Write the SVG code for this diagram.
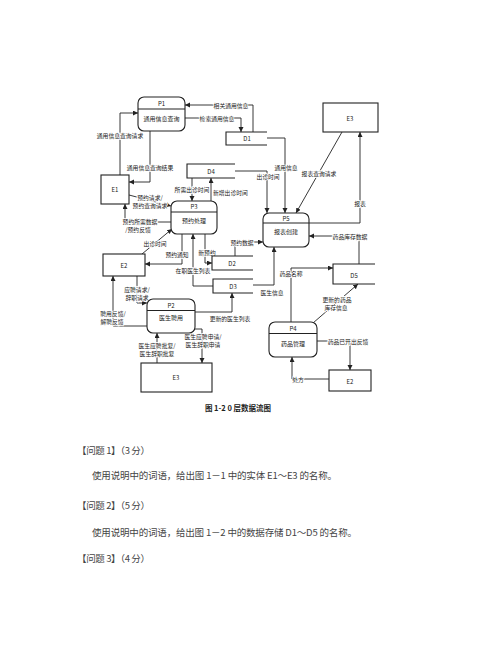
<svg xmlns="http://www.w3.org/2000/svg" width="500" height="647" viewBox="0 0 500 647">
<style>
text{font-family:"Noto Sans CJK SC","Liberation Sans",sans-serif;dominant-baseline:central;text-anchor:middle}
.box{fill:#fff;stroke:#222;stroke-width:1.1}
.ds{fill:none;stroke:#222;stroke-width:1.1}
.nt{font-size:6px;fill:#222}
.c{fill:none;stroke:#222;stroke-width:0.9;marker-end:url(#ah)}
.lb{font-size:5.8px;fill:#222;stroke:#fff;stroke-width:1.6;paint-order:stroke}
.q{font-size:9.5px;fill:#444;text-anchor:start}
</style>
<defs>
<marker id="ah" markerUnits="userSpaceOnUse" markerWidth="6" markerHeight="6" refX="5" refY="2.5" orient="auto">
<path d="M0,0 L5,2.5 L0,5 z" fill="#222"/>
</marker>
</defs>
<rect width="500" height="647" fill="#fff"/>

<g id="connectors">
<path class="c" d="M253,132 V105 H185"/>
<path class="c" d="M185,118 H241 V132"/>
<path class="c" d="M120,175 V113 H138"/>
<path class="c" d="M150,131 V182 H129"/>
<path class="c" d="M129,195 L171,206"/>
<path class="c" d="M171,222 H125 V204"/>
<path class="c" d="M192,178 V201"/>
<path class="c" d="M211,201 V178"/>
<path class="c" d="M235,171 H267 V213"/>
<path class="c" d="M267,138 H285 V213"/>
<path class="c" d="M342,132 L296,213"/>
<path class="c" d="M309,223 H360 V132"/>
<path class="c" d="M359,264 V236 H309"/>
<path class="c" d="M235,256 V242 H263"/>
<path class="c" d="M205,234 V263 H212"/>
<path class="c" d="M213,286 H193 V234"/>
<path class="c" d="M182,234 V264 H145"/>
<path class="c" d="M142,254 L172,229"/>
<path class="c" d="M137,276 V303 H147"/>
<path class="c" d="M147,326 H113 V276"/>
<path class="c" d="M195,312 H232 V293"/>
<path class="c" d="M193,329 H202 V363"/>
<path class="c" d="M157,363 V333"/>
<path class="c" d="M253,285 H274 V247"/>
<path class="c" d="M291,322 V268 H333"/>
<path class="c" d="M313,323 L358,284"/>
<path class="c" d="M317,341 H350 V370"/>
<path class="c" d="M329,379 H292 V357"/>

<text class="lb" x="231" y="105">相关通用信息</text>
<text class="lb" x="217" y="118">检索通用信息</text>
<text class="lb" x="120" y="135">通用信息查询请求</text>
<text class="lb" x="150" y="167">通用信息查询结果</text>
<text class="lb" x="150" y="197">预约请求/</text>
<text class="lb" x="150" y="205">预约查询请求</text>
<text class="lb" x="140" y="221">预约所需数据</text>
<text class="lb" x="138" y="229">/预约反馈</text>
<text class="lb" x="192" y="189">所需出诊时间</text>
<text class="lb" x="213" y="192" style="text-anchor:start">新增出诊时间</text>
<text class="lb" x="268" y="176">出诊时间</text>
<text class="lb" x="286" y="167">通用信息</text>
<text class="lb" x="319" y="173">报表查询请求</text>
<text class="lb" x="360" y="203">报表</text>
<text class="lb" x="350" y="236">药品库存数据</text>
<text class="lb" x="242" y="242">预约数据</text>
<text class="lb" x="207" y="252">新预约</text>
<text class="lb" x="193" y="270">在职医生列表</text>
<text class="lb" x="177" y="254">预约通知</text>
<text class="lb" x="155" y="243">出诊时间</text>
<text class="lb" x="137" y="289">应聘请求/</text>
<text class="lb" x="137" y="297.5">辞职请求</text>
<text class="lb" x="113" y="313">聘用反馈/</text>
<text class="lb" x="112" y="321">解聘反馈</text>
<text class="lb" x="230" y="318">更新的医生列表</text>
<text class="lb" x="203" y="336">医生应聘申请/</text>
<text class="lb" x="203" y="344.5">医生辞职申请</text>
<text class="lb" x="157" y="345">医生应聘批复/</text>
<text class="lb" x="157" y="353">医生辞职批复</text>
<text class="lb" x="272" y="292">医生信息</text>
<text class="lb" x="291" y="273">药品名称</text>
<text class="lb" x="337" y="299">更新的药品</text>
<text class="lb" x="336" y="307">库存信息</text>
<text class="lb" x="348" y="341">药品已开出反馈</text>
<text class="lb" x="298" y="379">处方</text>
</g>

<g id="P1"><rect class="box" x="138" y="97" width="47" height="34" rx="6"/><line class="ds" x1="138" y1="109" x2="185" y2="109"/><text class="nt" x="161.5" y="103.5">P1</text><text class="nt" x="161.5" y="118">通用信息查询</text></g>
<g id="P3"><rect class="box" x="171" y="201" width="46" height="33" rx="6"/><line class="ds" x1="171" y1="212" x2="217" y2="212"/><text class="nt" x="194" y="206.5">P3</text><text class="nt" x="194" y="220">预约处理</text></g>
<g id="P5"><rect class="box" x="263" y="213" width="46" height="34" rx="6"/><line class="ds" x1="263" y1="223" x2="309" y2="223"/><text class="nt" x="286" y="218">P5</text><text class="nt" x="286" y="231">报表创建</text></g>
<g id="P2"><rect class="box" x="147" y="299" width="48" height="34" rx="6"/><line class="ds" x1="147" y1="310.5" x2="195" y2="310.5"/><text class="nt" x="171" y="305">P2</text><text class="nt" x="171" y="317.5">医生聘用</text></g>
<g id="P4"><rect class="box" x="269" y="322" width="48" height="35" rx="6"/><line class="ds" x1="269" y1="333.5" x2="317" y2="333.5"/><text class="nt" x="293" y="328">P4</text><text class="nt" x="293" y="343">药品管理</text></g>

<g id="E1"><rect class="box" x="101" y="175" width="28" height="29"/><text class="nt" x="115" y="189.5">E1</text></g>
<g id="E3-top"><rect class="box" x="323" y="103" width="55" height="29"/><text class="nt" x="350" y="118">E3</text></g>
<g id="E2-left"><rect class="box" x="103" y="254" width="42" height="22"/><text class="nt" x="124" y="265">E2</text></g>
<g id="E3-bottom"><rect class="box" x="141" y="363" width="71" height="29"/><text class="nt" x="176" y="377.5">E3</text></g>
<g id="E2-right"><rect class="box" x="329" y="370" width="42" height="21"/><text class="nt" x="350" y="381">E2</text></g>

<g id="D1"><path class="ds" d="M267,132 H226 V145 H267"/><text class="nt" x="247" y="138.5">D1</text></g>
<g id="D4"><path class="ds" d="M235,164 H187 V178 H235"/><text class="nt" x="211" y="171">D4</text></g>
<g id="D2"><path class="ds" d="M253,256 H212 V270 H253"/><text class="nt" x="232" y="263">D2</text></g>
<g id="D3"><path class="ds" d="M253,279 H213 V293 H253"/><text class="nt" x="233" y="286">D3</text></g>
<g id="D5"><path class="ds" d="M375,264 H333 V284 H375"/><text class="nt" x="354" y="275">D5</text></g>

<text x="238" y="407" style="font-size:7.5px;font-weight:bold;fill:#222">图 1-2 0 层数据流图</text>

<text class="q" x="77" y="450" textLength="73" lengthAdjust="spacing">【问题 1】（3 分）</text>
<text class="q" x="92" y="475" textLength="245" lengthAdjust="spacing">使用说明中的词语，给出图 1－1 中的实体 E1～E3 的名称。</text>
<text class="q" x="77" y="505" textLength="73" lengthAdjust="spacing">【问题 2】（5 分）</text>
<text class="q" x="92" y="532" textLength="265" lengthAdjust="spacing">使用说明中的词语，给出图 1－2 中的数据存储 D1～D5 的名称。</text>
<text class="q" x="77" y="558" textLength="73" lengthAdjust="spacing">【问题 3】（4 分）</text>
</svg>
